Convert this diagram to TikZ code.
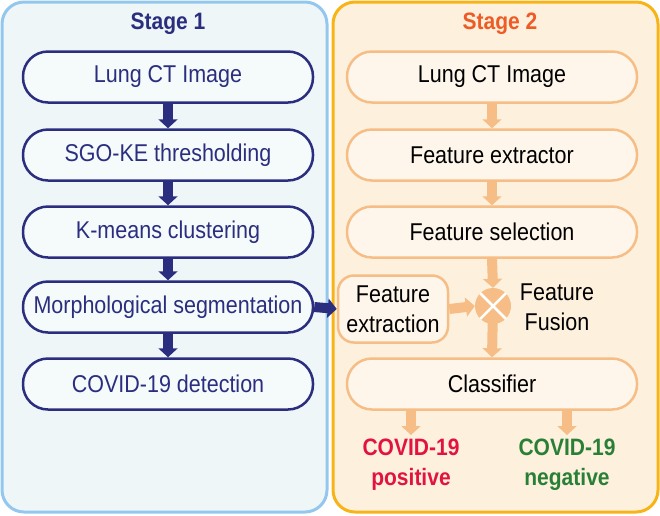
\documentclass[tikz,border=0pt]{standalone}
\usepackage{graphicx}
\usepackage{fontspec}
\setmainfont{Liberation Sans}
\usetikzlibrary{arrows.meta}
\newcommand\vs[1]{\scalebox{1}[1.13]{#1}}
\definecolor{navy}{HTML}{2B2E7F}
\definecolor{bluebg}{HTML}{EEF6F8}
\definecolor{blueedge}{HTML}{93C7EE}
\definecolor{orbg}{HTML}{FDF1DE}
\definecolor{oredge}{HTML}{F8B416}
\definecolor{orline}{HTML}{F6BE86}
\definecolor{orboxfill}{HTML}{FEF6EA}
\definecolor{titleor}{HTML}{EE5B24}
\definecolor{posred}{HTML}{E3133F}
\definecolor{neggreen}{HTML}{2A7F36}
\tikzset{
  panel/.style={line width=3pt, rounded corners=22pt},
  bluebox/.style={draw=navy, line width=2.5pt, fill=white!40!bluebg, rounded corners=25pt,
    minimum width=290pt, minimum height=51pt, text=navy, font=\fontsize{21.5}{24}\selectfont, inner sep=0pt},
  orbox/.style={draw=orline, line width=2.5pt, fill=orboxfill, rounded corners=25pt,
    minimum width=290pt, minimum height=51pt, text=black, font=\fontsize{21.5}{24}\selectfont, inner sep=0pt},
  navyarrow/.style={draw=navy, line width=10pt, -{Triangle[width=19pt,length=9pt]}},
  orarrow/.style={draw=orline, line width=10pt, -{Triangle[width=19pt,length=9pt]}},
  titletext/.style={font=\bfseries\fontsize{21}{24}\selectfont},
  plaintext/.style={font=\fontsize{21.5}{30}\selectfont, align=center, inner sep=0pt},
  resulttext/.style={font=\bfseries\fontsize{21}{30}\selectfont, align=center, inner xsep=0pt, inner ysep=4pt}
}
\begin{document}
\begin{tikzpicture}[x=1pt,y=-1pt]
\useasboundingbox (0,0) rectangle (660,515);
% panels
\draw[panel, draw=blueedge, fill=bluebg] (2,2) rectangle (327,512);
\draw[panel, draw=oredge, fill=orbg] (333,2) rectangle (658,512);
% titles
\node[titletext, text=navy] (t1) at (168,24) {\vs{Stage 1}};
\node[titletext, text=titleor] (t2) at (500,24) {\vs{Stage 2}};
% stage 1 boxes
\node[bluebox] (a1) at (168,77) {\vs{Lung CT Image}};
\node[bluebox] (a2) at (168,155) {\vs{SGO-KE thresholding}};
\node[bluebox] (a3) at (168,232) {\vs{K-means clustering}};
\node[bluebox] (a4) at (168,307) {\vs{Morphological segmentation}};
\node[bluebox] (a5) at (168,384) {\vs{COVID-19 detection}};
\draw[navyarrow] (a1.south) -- (a2.north);
\draw[navyarrow] (a2.south) -- (a3.north);
\draw[navyarrow] (a3.south) -- (a4.north);
\draw[navyarrow] (a4.south) -- (a5.north);
% stage 2 boxes
\node[orbox] (b1) at (492,77) {\vs{Lung CT Image}};
\node[orbox] (b2) at (492,155) {\vs{Feature extractor}};
\node[orbox] (b3) at (492,232) {\vs{Feature selection}};
\node[orbox] (b5) at (492,384) {\vs{Classifier}};
\node[draw=orline, line width=2.5pt, fill=orboxfill, rounded corners=16pt,
  minimum width=110pt, minimum height=67pt, plaintext] (fe) at (393,309) {\vs{Feature}\\\vs{extraction}};
\node[plaintext] (fl) at (557,307) {\vs{Feature}\\\vs{Fusion}};
\node[circle, minimum size=36pt, inner sep=0pt] (fu) at (493,306) {};
\draw[orarrow] (b1.south) -- (b2.north);
\draw[orarrow] (b2.south) -- (b3.north);
\draw[orarrow] (b3.south) -- (fu.north);
\draw[orarrow] (fe.east) -- (fu.west);
\draw[orarrow] (fu.center) -- (b5.north);
\fill[orline] (fu.center) circle (18pt);
\draw[white, line width=2.5pt] (fu.45) -- (fu.225) (fu.135) -- (fu.315);
% link
\draw[navyarrow] (a4.east) -- (fe.west);
% outputs
\coordinate (p0) at (411,410);
\coordinate (n0) at (567,410);
\node[resulttext, text=posred, anchor=north] (pos) at (411,435) {\vs{COVID-19}\\\vs{positive}};
\node[resulttext, text=neggreen, anchor=north] (neg) at (567,435) {\vs{COVID-19}\\\vs{negative}};
\draw[orarrow] (p0) -- (pos.north);
\draw[orarrow] (n0) -- (neg.north);
\end{tikzpicture}
\end{document}
